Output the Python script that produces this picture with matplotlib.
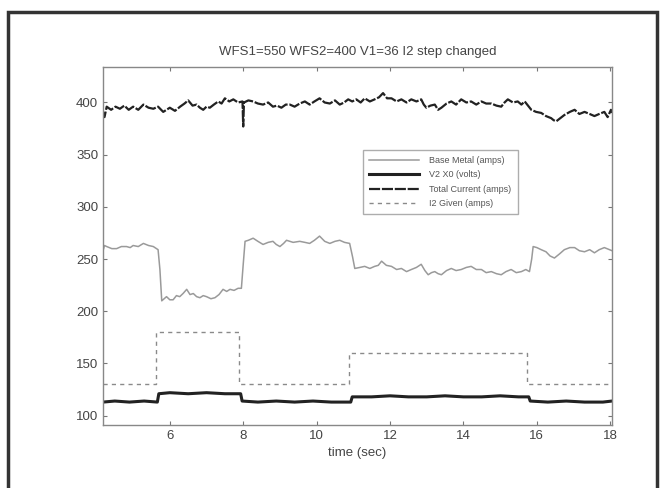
import matplotlib
matplotlib.use("Agg")
import matplotlib.pyplot as plt
from matplotlib.patches import Rectangle

plt.rcParams['font.family'] = ['Liberation Sans', 'DejaVu Sans']

# total current (amps)
t_total = [4.18, 4.22, 4.28, 4.40, 4.52, 4.64, 4.76, 4.88, 5.00, 5.14,
           5.28, 5.42, 5.55, 5.68, 5.82, 5.91, 6.00, 6.14, 6.28, 6.40,
           6.50, 6.62, 6.73, 6.82, 6.91, 7.00, 7.09, 7.20, 7.32, 7.41,
           7.50, 7.62, 7.73, 7.86, 7.98, 8.00, 8.02, 8.14, 8.27, 8.40,
           8.54, 8.68, 8.81, 8.92, 9.04, 9.16, 9.27, 9.40, 9.54, 9.68,
           9.81, 9.94, 10.08, 10.22, 10.36, 10.50, 10.63, 10.75, 10.86, 10.97,
           11.08, 11.20, 11.31, 11.45, 11.58, 11.70, 11.81, 11.92, 12.04, 12.18,
           12.31, 12.45, 12.58, 12.72, 12.85, 12.92, 12.99, 13.10, 13.22, 13.31,
           13.40, 13.54, 13.67, 13.80, 13.94, 14.08, 14.21, 14.35, 14.49, 14.62,
           14.76, 14.90, 15.03, 15.12, 15.21, 15.35, 15.48, 15.58, 15.67, 15.76,
           15.85, 15.98, 16.12, 16.25, 16.39, 16.46, 16.53, 16.64, 16.75, 16.90,
           17.03, 17.16, 17.30, 17.44, 17.57, 17.70, 17.84, 17.93, 18.02, 18.05]
total_current = [391, 386, 396, 393, 396, 394, 397, 393, 396, 393,
                 398, 395, 394, 396, 391, 393, 395, 392, 396, 399,
                 402, 397, 398, 395, 393, 396, 395, 398, 401, 399,
                 404, 401, 403, 400, 401, 377, 400, 402, 401, 399,
                 398, 400, 396, 397, 395, 398, 398, 396, 399, 401,
                 398, 401, 404, 400, 399, 402, 398, 400, 403, 401,
                 403, 400, 404, 401, 403, 405, 409, 404, 404, 401,
                 403, 400, 403, 401, 403, 398, 395, 397, 398, 393,
                 395, 399, 401, 398, 403, 400, 401, 398, 401, 399,
                 399, 397, 396, 400, 403, 400, 401, 398, 401, 397,
                 393, 391, 390, 387, 385, 383, 382, 385, 388, 391,
                 393, 389, 391, 389, 387, 389, 391, 386, 393, 390]

# base metal (amps)
t_base = [4.18, 4.22, 4.28, 4.42, 4.55, 4.68, 4.82, 4.92, 5.00, 5.14,
          5.28, 5.42, 5.55, 5.68, 5.73, 5.78, 5.91, 6.00, 6.09, 6.18,
          6.27, 6.36, 6.46, 6.55, 6.64, 6.73, 6.82, 6.91, 7.00, 7.12,
          7.23, 7.34, 7.45, 7.55, 7.64, 7.75, 7.86, 7.95, 8.00, 8.05,
          8.14, 8.27, 8.40, 8.54, 8.68, 8.81, 8.90, 9.00, 9.10, 9.18,
          9.36, 9.54, 9.68, 9.81, 9.94, 10.08, 10.22, 10.36, 10.50, 10.63,
          10.76, 10.90, 10.98, 11.04, 11.18, 11.31, 11.45, 11.58, 11.68, 11.77,
          11.90, 12.04, 12.18, 12.31, 12.45, 12.58, 12.72, 12.85, 12.95, 13.04,
          13.13, 13.22, 13.31, 13.40, 13.54, 13.67, 13.80, 13.94, 14.08, 14.21,
          14.35, 14.49, 14.62, 14.76, 14.90, 15.03, 15.16, 15.30, 15.44, 15.58,
          15.70, 15.80, 15.86, 15.90, 16.00, 16.12, 16.25, 16.36, 16.48, 16.62,
          16.75, 16.90, 17.03, 17.16, 17.30, 17.44, 17.57, 17.70, 17.84, 18.05]
base_metal = [258, 263, 262, 260, 260, 262, 262, 261, 263, 262,
              265, 263, 262, 259, 240, 210, 214, 211, 211, 215,
              214, 217, 221, 216, 217, 214, 213, 215, 214, 212,
              213, 216, 221, 219, 221, 220, 222, 222, 245, 267,
              268, 270, 267, 264, 266, 267, 264, 262, 265, 268,
              266, 267, 266, 265, 268, 272, 267, 265, 267, 268,
              266, 265, 252, 241, 242, 243, 241, 243, 244, 248,
              244, 243, 240, 241, 238, 240, 242, 245, 239, 235,
              237, 238, 236, 235, 239, 241, 239, 240, 242, 243,
              240, 240, 237, 238, 236, 235, 238, 240, 237, 238,
              240, 238, 250, 262, 261, 259, 257, 253, 251, 255,
              259, 261, 261, 258, 257, 259, 256, 259, 261, 258]

# V2 X0 (volts)
t_v2 = [4.18, 4.5, 4.9, 5.3, 5.66, 5.70, 6.0, 6.5, 7.0, 7.5, 7.93, 7.97,
        8.4, 8.9, 9.4, 9.9, 10.4, 10.93, 10.97, 11.5, 12.0, 12.5, 13.0,
        13.5, 14.0, 14.5, 15.0, 15.5, 15.78, 15.82, 16.3, 16.8, 17.3, 17.8, 18.05]
v2_x0 = [113, 114, 113, 114, 113, 121, 122, 121, 122, 121, 121, 114,
         113, 114, 113, 114, 113, 113, 118, 118, 119, 118, 118,
         119, 118, 118, 119, 118, 118, 114, 113, 114, 113, 113, 114]

# I2 given (amps), step changes
t_i2 = [4.18, 5.62, 7.89, 10.88, 15.72, 18.05]
i2_given = [130, 180, 130, 160, 130, 130]

fig = plt.figure(figsize=(6.66, 4.88), dpi=100)
ax = fig.add_axes([0.1547, 0.129, 0.7643, 0.7337])

ax.plot(t_base, base_metal, color='#9a9a9a', lw=1.1, label='Base Metal (amps)')
ax.plot(t_v2, v2_x0, color='#222222', lw=2.2, label='V2 X0 (volts)')
ax.plot(t_total, total_current, color='#222222', lw=1.6, linestyle=(0, (5, 0.8)),
        label='Total Current (amps)')
ax.plot(t_i2, i2_given, color='#8a8a8a', lw=1.0, linestyle=(0, (3, 3)),
        drawstyle='steps-post', label='I2 Given (amps)')

ax.set_xlim(4.18, 18.05)
ax.set_ylim(91, 434)
ax.set_xticks([6, 8, 10, 12, 14, 16, 18])
ax.set_yticks([100, 150, 200, 250, 300, 350, 400])
ax.tick_params(direction='in', top=True, right=True, length=3,
               colors='#777777', labelcolor='#444444', labelsize=9.5)
for s in ax.spines.values():
    s.set_color('#888888')
    s.set_linewidth(1.0)

ax.set_title('WFS1=550 WFS2=400 V1=36 I2 step changed', fontsize=9.5,
             color='#444444', pad=9)
ax.set_xlabel('time (sec)', fontsize=9.5, color='#444444', labelpad=4)

leg = ax.legend(loc='upper left', bbox_to_anchor=(0.501, 0.782), fontsize=6.5,
                handlelength=5.5, frameon=True, fancybox=False, borderpad=0.7,
                labelspacing=0.6, handletextpad=1.2)
leg.get_frame().set_edgecolor('#999999')
leg.get_frame().set_linewidth(1.0)
for txt in leg.get_texts():
    txt.set_color('#555555')

# outer frame around the figure
fig.patches.append(Rectangle((0.012, -0.05), 0.974, 1.025, transform=fig.transFigure,
                             fill=False, edgecolor='#333333', lw=2.5))

fig.savefig('out.png', dpi=100)
